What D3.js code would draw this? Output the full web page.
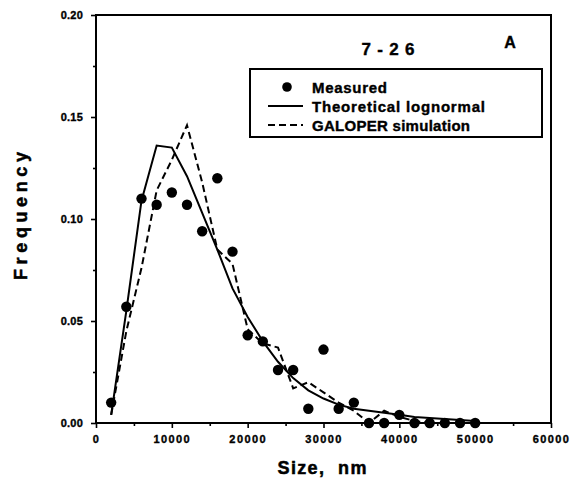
<!DOCTYPE html>
<html><head><meta charset="utf-8">
<script src="https://cdn.jsdelivr.net/npm/d3@7"></script>
<style>body{margin:0;background:#fff}svg{display:block}text{font-family:"Liberation Sans",Arial,sans-serif;font-weight:bold;fill:#000}</style>
</head><body><svg id="c" width="575" height="478"></svg>
<script>
const sizes = [2000,4000,6000,8000,10000,12000,14000,16000,18000,20000,22000,24000,26000,28000,30000,32000,34000,36000,38000,40000,42000,44000,46000,48000,50000];
const measured = [0.010,0.057,0.110,0.107,0.113,0.107,0.094,0.120,0.084,0.043,0.040,0.026,0.026,0.007,0.036,0.007,0.010,0.000,0.000,0.004,0.000,0.000,0.000,0.000,0.000];
const lognormal = [0.004,0.055,0.109,0.136,0.135,0.121,0.103,0.085,0.066,0.052,0.040,0.030,0.022,0.016,0.012,0.009,0.007,0.006,0.005,0.004,0.003,0.0025,0.002,0.0015,0.001];
const galoper = [0.004,0.045,0.076,0.114,0.129,0.146,0.118,0.085,0.078,0.046,0.039,0.037,0.017,0.020,0.015,0.010,0.006,0.000,0.006,0.003,0.001,0.000,0.000,0.000,0.000];
const xTicks = [0,10000,20000,30000,40000,50000,60000];
const xMinorTicks = [5000,15000,25000,35000,45000,55000];
const yTicks = [0.00,0.05,0.10,0.15,0.20];
const yMinorTicks = [0.025,0.075,0.125,0.175];
const legendLabels = ["Measured","Theoretical lognormal","GALOPER simulation"];
const titleText = "7-26", panelLabel = "A";
const xTitle = "Size,  nm", yTitle = "Frequency";

const svg = d3.select("#c");
const x = d3.scaleLinear().domain([0,60000]).range([96,551]);
const y = d3.scaleLinear().domain([0,0.2]).range([423,15]);

function bold(sel, w){ return sel.attr("stroke","#000").attr("stroke-width",w).attr("paint-order","stroke"); }

// axes
const gx = svg.append("g").attr("transform",`translate(0,${y(0)})`)
  .call(d3.axisBottom(x).tickValues(xTicks).tickSize(5).tickFormat(d3.format("d")));
svg.append("g").attr("transform",`translate(0,${y(0)})`)
  .call(d3.axisBottom(x).tickValues(xMinorTicks).tickSize(3).tickFormat(""));
const gy = svg.append("g").attr("transform",`translate(${x(0)},0)`)
  .call(d3.axisLeft(y).tickValues(yTicks).tickSize(5).tickFormat(d3.format(".2f")));
svg.append("g").attr("transform",`translate(${x(0)},0)`)
  .call(d3.axisLeft(y).tickValues(yMinorTicks).tickSize(3).tickFormat(""));
svg.selectAll(".domain").remove();
svg.selectAll(".tick line").attr("stroke","#000").attr("stroke-width",1.6);
gx.selectAll("text").attr("font-size",11).attr("dy","1.1em").attr("letter-spacing","1.4px")
  .style("font-family","'Liberation Sans',Arial,sans-serif").style("font-weight","bold");
bold(gx.selectAll("text"),0.35);
gy.selectAll("text").attr("font-size",11).attr("x",-13).attr("letter-spacing","0.2px")
  .style("font-family","'Liberation Sans',Arial,sans-serif").style("font-weight","bold");
bold(gy.selectAll("text"),0.35);

// frame
svg.append("rect").attr("x",x(0)).attr("y",y(0.2)).attr("width",x(60000)-x(0)).attr("height",y(0)-y(0.2))
  .attr("fill","none").attr("stroke","#000").attr("stroke-width",2);

// lines
const line = d3.line().x((d,i)=>x(sizes[i])).y(d=>y(d));
svg.append("path").datum(lognormal).attr("d",line).attr("fill","none").attr("stroke","#000").attr("stroke-width",2);
svg.append("path").datum(galoper).attr("d",line).attr("fill","none").attr("stroke","#000").attr("stroke-width",2).attr("stroke-dasharray","7,4");

// points
svg.append("g").selectAll("circle").data(measured).join("circle")
  .attr("cx",(d,i)=>x(sizes[i])).attr("cy",d=>y(d)).attr("r",5.2).attr("fill","#000");

// titles
bold(svg.append("text").attr("x",322).attr("y",474).attr("text-anchor","middle").attr("font-size",18)
  .attr("textLength",89).attr("lengthAdjust","spacing").style("white-space","pre").text(xTitle),0.5);
bold(svg.append("text").attr("transform","translate(27,216) rotate(-90)").attr("text-anchor","middle").attr("font-size",18)
  .attr("textLength",128).attr("lengthAdjust","spacing").text(yTitle),0.5);
bold(svg.append("text").attr("x",388).attr("y",55).attr("text-anchor","middle").attr("font-size",17)
  .attr("textLength",53).attr("lengthAdjust","spacing").text(titleText),0.4);
bold(svg.append("text").attr("x",510).attr("y",48).attr("text-anchor","middle").attr("font-size",16).text(panelLabel),0.4);

// legend
const lg = svg.append("g");
lg.append("rect").attr("x",250).attr("y",69).attr("width",292).attr("height",68).attr("fill","#fff").attr("stroke","#000").attr("stroke-width",2);
const ly = [87,106,125];
const lw = [75,173,158];
lg.append("circle").attr("cx",287).attr("cy",ly[0]).attr("r",4.8).attr("fill","#000");
lg.append("line").attr("x1",268).attr("x2",303).attr("y1",ly[1]).attr("y2",ly[1]).attr("stroke","#000").attr("stroke-width",2);
lg.append("line").attr("x1",268).attr("x2",303).attr("y1",ly[2]).attr("y2",ly[2]).attr("stroke","#000").attr("stroke-width",2).attr("stroke-dasharray","7,4");
bold(lg.selectAll("text.l").data(legendLabels).join("text").attr("class","l")
  .attr("x",312).attr("y",(d,i)=>ly[i]+6).attr("font-size",15)
  .attr("textLength",(d,i)=>lw[i]).attr("lengthAdjust","spacing").text(d=>d),0.4);
</script></body></html>
